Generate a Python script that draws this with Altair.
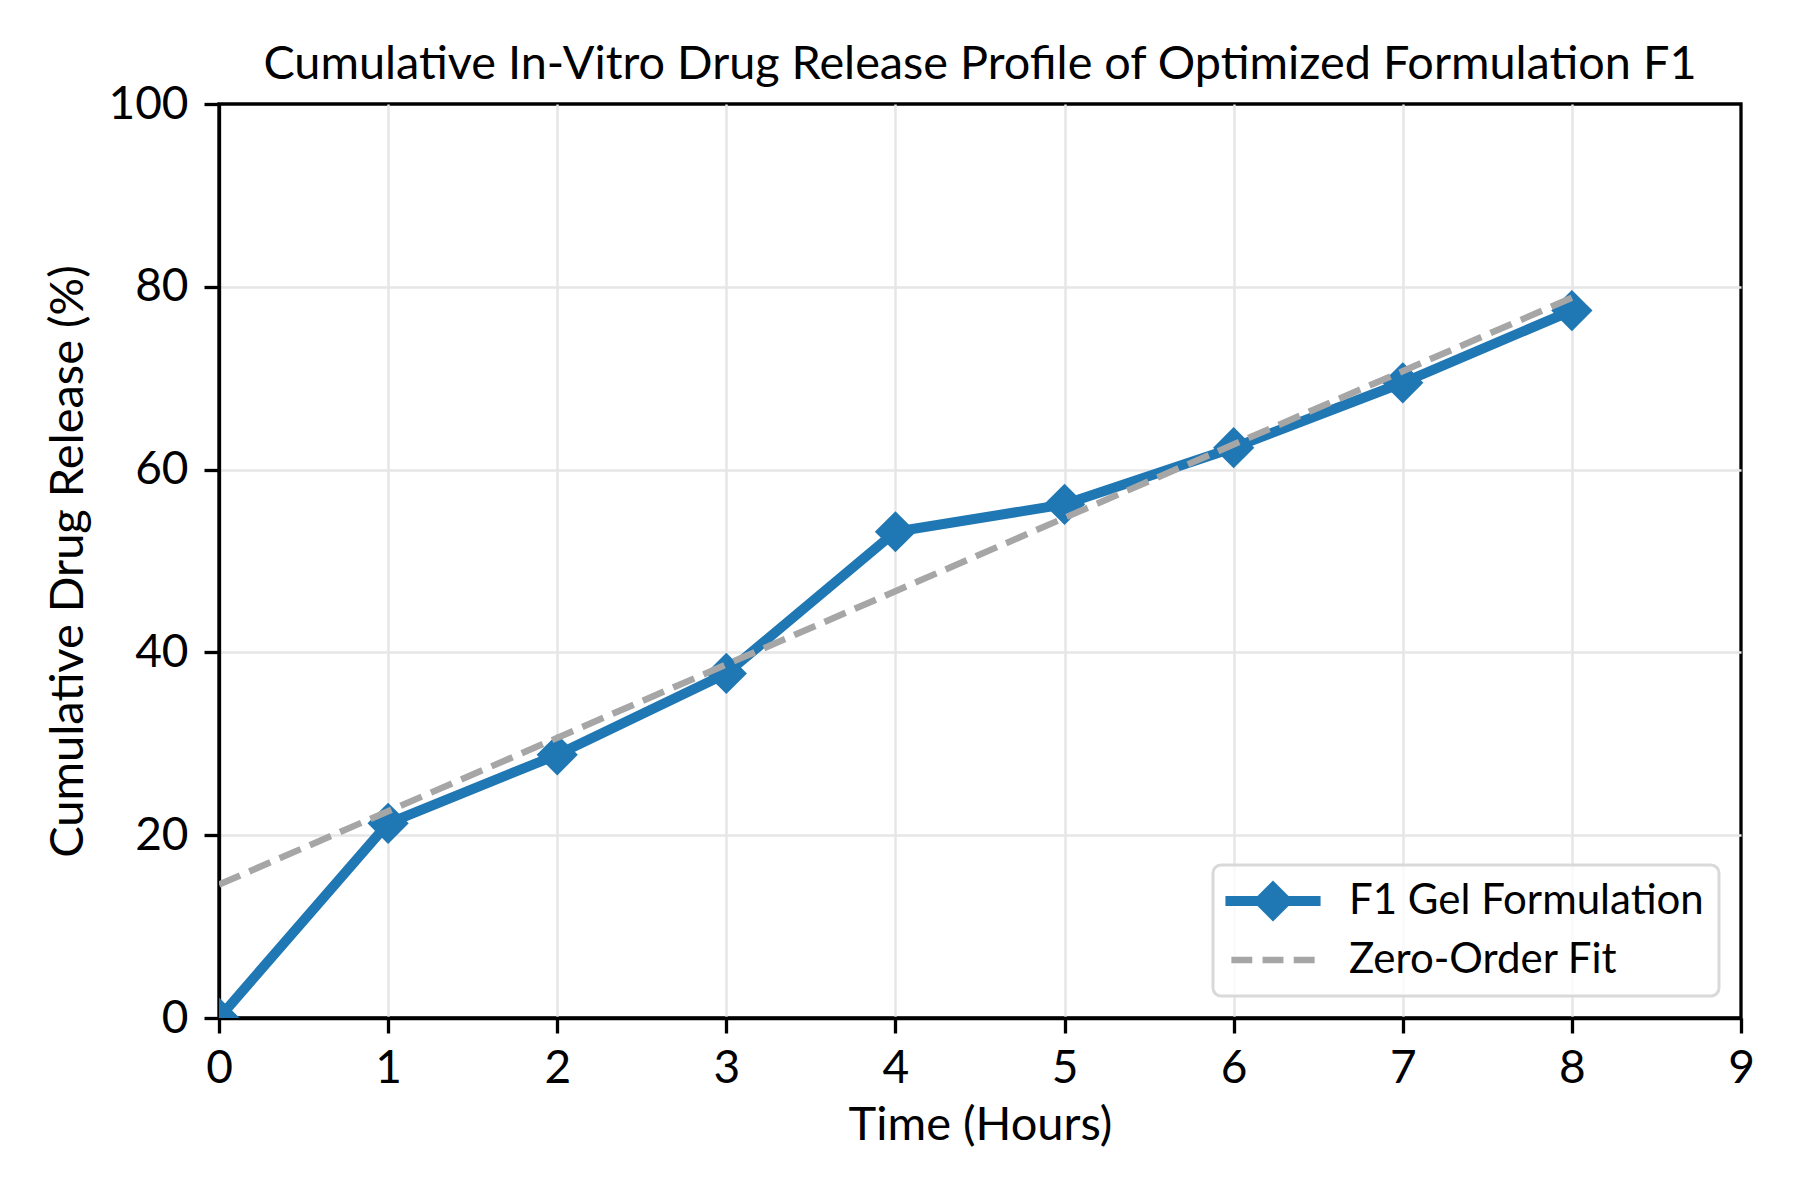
import altair as alt
import pandas as pd

# ---- data ----
time_h = [0, 1, 2, 3, 4, 5, 6, 7, 8]
release = [0.0, 21.3, 28.8, 37.7, 53.2, 56.2, 62.4, 69.5, 77.4]
fit_time = [0, 8]
fit_release = [14.6, 78.8]
series_names = ["F1 Gel Formulation", "Zero-Order Fit"]
series_colors = ["#1f77b4", "#a6a6a6"]
x_ticks = [0, 1, 2, 3, 4, 5, 6, 7, 8, 9]
y_ticks = [0, 20, 40, 60, 80, 100]

df = pd.DataFrame({"time": time_h, "release": release, "series": series_names[0]})
fit_df = pd.DataFrame({"time": fit_time, "release": fit_release, "series": series_names[1]})

FONT = "Lato"

# legend symbols: line + diamond, and three dashes
path_f1 = "M-2.32,-0.24L2.32,-0.24L2.32,0.24L-2.32,0.24Z M0,-1L1,0L0,1L-1,0Z"
path_fit = ("M-2.03,-0.16L-1.01,-0.16L-1.01,0.16L-2.03,0.16Z "
            "M-0.51,-0.16L0.51,-0.16L0.51,0.16L-0.51,0.16Z "
            "M1.01,-0.16L2.03,-0.16L2.03,0.16L1.01,0.16Z")

x_grid = {"condition": {"test": "datum.value === 0 || datum.value === 9", "value": "transparent"},
          "value": "#e6e6e6"}
y_grid = {"condition": {"test": "datum.value === 0 || datum.value === 100", "value": "transparent"},
          "value": "#e6e6e6"}

x_enc = alt.X("time:Q", scale=alt.Scale(domain=[0, 9], nice=False),
              axis=alt.Axis(values=x_ticks, title="Time (Hours)", format="d", gridColor=x_grid,
                            labelPadding=13, titlePadding=11))
y_enc = alt.Y("release:Q", scale=alt.Scale(domain=[0, 100], nice=False),
              axis=alt.Axis(values=y_ticks, title="Cumulative Drug Release (%)", format="d",
                            gridColor=y_grid, labelPadding=16, titlePadding=15))

line = alt.Chart(df).mark_line(color=series_colors[0], strokeWidth=10, clip=True,
                               strokeJoin="round").encode(x=x_enc, y=y_enc)
pts = alt.Chart(df).mark_point(shape="diamond", filled=True, size=1700, color=series_colors[0],
                               opacity=1, clip=True).encode(x="time:Q", y="release:Q")
fit = alt.Chart(fit_df).mark_line(color=series_colors[1], strokeWidth=6.5, strokeDash=[23, 10],
                                  clip=True).encode(x="time:Q", y="release:Q")

legend_kw = dict(orient="bottom-right", offset=22, title=None, symbolSize=1681,
                 symbolOffset=24, labelOffset=55, labelFont=FONT, labelFontSize=42,
                 labelColor="black", labelLimit=1000, padding=15, rowPadding=17,
                 strokeColor="#d9d9d9", fillColor="rgba(255,255,255,0.8)", cornerRadius=8,
                 symbolStrokeWidth=0)

legend_layer = alt.Chart(df).mark_point(filled=True, opacity=1).transform_filter("false").encode(
    x="time:Q", y="release:Q",
    color=alt.Color("series:N", scale=alt.Scale(domain=series_names, range=series_colors),
                    legend=alt.Legend(**legend_kw)),
    shape=alt.Shape("series:N", scale=alt.Scale(domain=series_names, range=[path_f1, path_fit]),
                    legend=alt.Legend(**legend_kw)),
)

chart = alt.layer(line, pts, fit, legend_layer).properties(
    width=1522, height=914,
    title=alt.Title("Cumulative In-Vitro Drug Release Profile of Optimized Formulation F1",
                    frame="group", offset=-8),
    padding={"left": 36, "top": 34, "right": 5, "bottom": 5},
).configure_view(
    stroke="black", strokeWidth=3.3
).configure_axis(
    domainColor="black", domainWidth=3.3, tickColor="black", tickWidth=3.3, tickSize=15,
    labelFont=FONT, labelFontSize=46, labelColor="black",
    labelFlush=False, labelOverlap=False,
    titleFont=FONT, titleFontSize=47, titleFontWeight="normal", titleColor="black",
    gridWidth=2.5,
).configure_title(
    font=FONT, fontSize=46.8, fontWeight="normal", color="black", anchor="middle"
).configure_legend(
    strokeWidth=3
)

chart.save("out.html", embed_options={"renderer": "svg", "actions": False})
